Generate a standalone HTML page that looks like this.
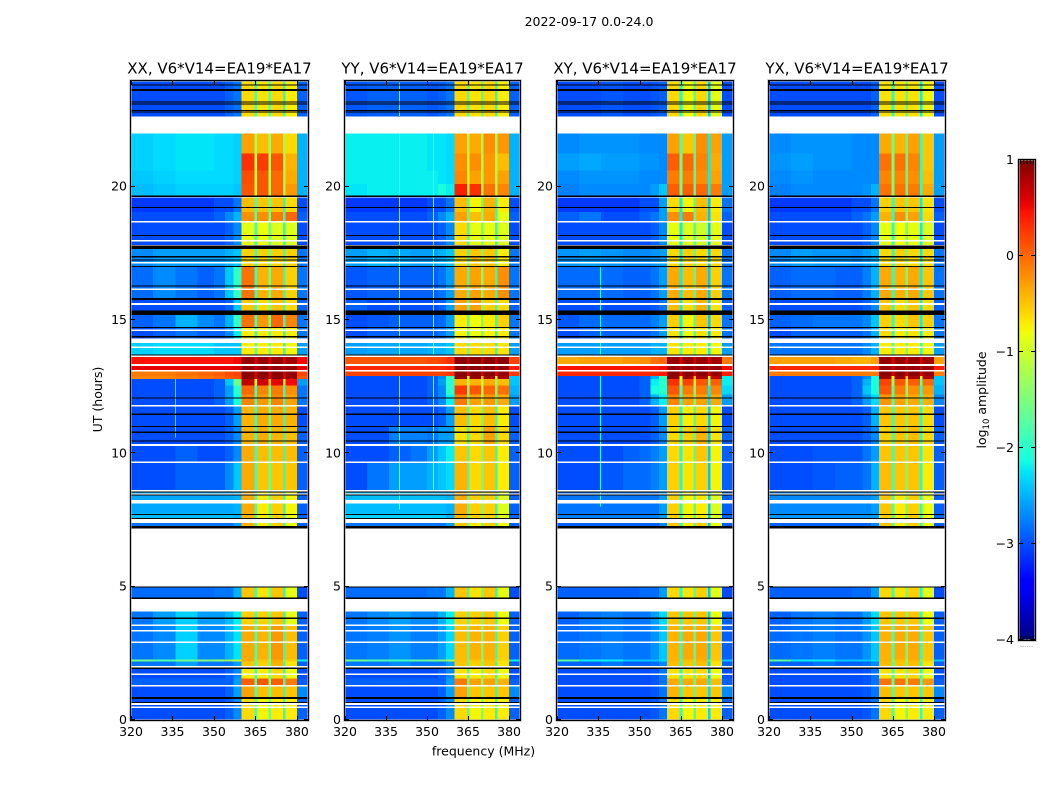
<!DOCTYPE html>
<html lang="en">
<head>
<meta charset="utf-8">
<title>2022-09-17 0.0-24.0</title>
<style>
html,body{margin:0;padding:0;background:#fff;width:1050px;height:800px;overflow:hidden}
svg{display:block}
text{font-family:"DejaVu Sans","Liberation Sans",sans-serif;fill:#000}
</style>
</head>
<body>
<svg id="fig" xmlns="http://www.w3.org/2000/svg" width="1050" height="800" viewBox="0 0 1050 800">
  <defs><linearGradient id="jetGrad" x1="0" y1="1" x2="0" y2="0"></linearGradient></defs>
  <rect x="0" y="0" width="1050" height="800" fill="#fff"/>
  <text x="589" y="26" font-size="12.5" text-anchor="middle">2022-09-17 0.0-24.0</text>
  <text x="483.500" y="755.500" font-size="12.5" text-anchor="middle">frequency (MHz)</text>
  <text x="0" y="0" font-size="12.5" text-anchor="middle" transform="translate(102,399.500) rotate(-90)">UT (hours)</text>
  <text x="0" y="0" font-size="12.5" text-anchor="middle" transform="translate(986,400) rotate(-90)">log<tspan font-size="8.500" dy="3">10</tspan><tspan dy="-3"> amplitude</tspan></text>
  <text x="1026.500" y="647" font-size="7" fill="#888" text-anchor="middle" style="fill:#888">......</text>
  <g id="panels"></g>
  <g id="cbar"></g>
</svg>
<script>
// ---------- chart data ----------
const panelProducts = ['XX', 'YY', 'XY', 'YX'];
const baselineLabel = ', V6*V14=EA19*EA17';
const freqTicks = [320, 335, 350, 365, 380];
const hourTicks = [0, 5, 10, 15, 20];
const colorbarTicks = [1, 0, -1, -2, -3, -4];
const colorbarMinor = [0, 1, 2, 3, 4];

// Frequency channel group edges (MHz)
const freqEdges = [320, 328, 336, 344, 350, 354, 357, 360, 364.6, 365.6, 369.7, 370.6, 374.9, 375.8, 380, 384];
// Time band edges (UT hours), top of plot downward
const hourEdges = [23.96, 22.65, 22, 21.25, 20.6, 20.1, 19.62, 19.05, 18.68, 17.75, 17, 15.75, 15.3, 14.7, 14.33, 14.13, 13.67, 13.3, 13.07, 12.9, 12.78, 12.55, 12.2, 11.78, 10.98, 10.3, 9.66, 8.6, 7.75, 7.55, 7.38, 7.2, 5, 4.55, 4.07, 3.56, 2.27, 2.2, 1.98, 1.55, 1.3, 0.85, 0];

// log10 amplitude per time band / channel group; null = no data (white)
const xxLevels = [
[-3,-3,-3,-3,-3,-2.9,-2.8,-.6,-1.8,-.65,-1.7,-.6,-2,-.7,-2.9],
null,
[-2.35,-2.3,-2.25,-2.25,-2.3,-2.3,-2.35,-.3,-1.2,-.45,-1.3,-.35,-1.3,-.6,-2.5],
[-2.35,-2.3,-2.25,-2.25,-2.3,-2.3,-2.35,.3,-1,.25,-1.2,.1,-1.2,-.4,-2.5],
[-2.4,-2.35,-2.3,-2.3,-2.3,-2.3,-2.35,.15,-1,.1,-1.2,0,-1.2,-.35,-2.5],
[-2.45,-2.4,-2.35,-2.35,-2.35,-2.35,-2.4,.1,-1,.1,-1.2,0,-1.2,-.25,-2.5],
[-3.1,-3.1,-3.1,-3.1,-3,-3,-2.8,-.45,-1.8,-.5,-1.6,-.5,-2.1,-.6,-3],
[-3,-3,-3,-3,-2.9,-2.7,-2.5,-.2,-1.7,-.2,-1.5,-.1,-2,0,-2.9],
[-3,-3,-3,-3,-3,-2.9,-2.7,-.85,-1.9,-.8,-1.6,-.9,-2,-.9,-3],
[-2.7,-2.6,-2.6,-2.6,-2.6,-2.5,-2.4,-.55,-1.9,-.55,-1.6,-.55,-2,-.55,-2.8],
[-2.85,-2.7,-2.8,-2.9,-2.8,-2.4,-1.95,-.05,-1.9,-.4,-1.5,-.35,-2,-.55,-2.8],
[-3,-3,-3,-3,-3,-2.9,-2.4,-.5,-1.9,-.6,-1.6,-.5,-2,-.6,-2.9],
[-2.9,-2.8,-2.5,-2.7,-2.8,-2.5,-1.95,-.05,-1.8,-.25,-1.5,0,-2,-.15,-2.8],
[-3,-2.9,-2.8,-2.9,-2.9,-2.7,-2.2,-.7,-1.9,-.7,-1.6,-.7,-2,-.7,-2.8],
null,
[-2.35,-2.3,-2.3,-2.3,-2.4,-2.4,-2.4,-.7,-1.7,-.7,-1.5,-.7,-2,-.75,-2.6],
[.45,.45,.45,.45,.45,.45,.5,.9,.6,.9,.6,.9,.6,.85,.5],
[.55,.55,.55,.55,.55,.55,.6,.9,.7,.9,.7,.9,.7,.9,.55],
[-.1,-.1,-.05,0,.05,.15,.2,.95,.6,.95,.6,.95,.6,.9,.2],
[-.15,-.15,-.1,-.05,0,.1,.15,.95,.6,.95,.6,.95,.6,.9,.1],
[-3,-3,-3,-3,-2.9,-2.4,-1.6,.7,-.8,.65,-.5,.55,-1,.5,-2.6],
[-3,-3,-3,-3,-2.9,-2.6,-2,0,-1.8,-.15,-1.5,-.1,-2,-.2,-2.8],
[-3,-3,-3,-3,-2.9,-2.6,-2.1,-.15,-1.8,-.25,-1.5,-.15,-2,-.3,-2.8],
[-3,-3,-3,-3,-3,-2.9,-2.6,-.4,-1.9,-.35,-1.6,-.35,-2,-.4,-3],
[-3,-3,-3,-3,-3,-2.9,-2.7,-.4,-1.9,-.35,-1.6,-.4,-2,-.45,-2.9],
[-3,-3,-2.9,-3,-3,-2.9,-2.7,-.35,-1.9,-.45,-1.6,-.45,-2,-.45,-2.9],
[-3,-3,-2.9,-2.9,-2.9,-2.7,-2.4,-.35,-1.9,-.5,-1.6,-.5,-2,-.5,-2.9],
[-2.55,-2.55,-2.55,-2.55,-2.55,-2.55,-2.5,-.35,-1.8,-.7,-1.6,-.55,-2,-.75,-2.9],
[-2.45,-2.45,-2.45,-2.45,-2.45,-2.45,-2.5,-.4,-1.8,-.7,-1.6,-.55,-2,-.8,-2.9],
null,
[-2.8,-2.8,-2.8,-2.8,-2.8,-2.8,-2.6,-.4,-1.8,-.7,-1.6,-.55,-2,-.8,-2.9],
null,
[-2.85,-2.85,-2.85,-2.85,-2.8,-2.8,-2.5,-.5,-1.9,-.65,-1.6,-.5,-2.1,-.85,-3],
null,
[-2.8,-2.6,-2.35,-2.6,-2.6,-2.45,-2.2,-.55,-1.8,-.55,-1.6,-.5,-2,-.85,-2.9],
[-2.8,-2.7,-2.35,-2.7,-2.7,-2.5,-2.25,-.35,-1.8,-.4,-1.6,-.25,-2,-.45,-2.9],
[-1.6,-1.8,-1.6,-1.5,-1.4,-1.3,-1.1,-.35,-1.6,-.5,-1.4,-.35,-1.6,-.55,-2.2],
[-2.8,-2.8,-2.6,-2.8,-2.8,-2.8,-2.6,-.5,-1.8,-.55,-1.6,-.4,-2,-.65,-2.9],
[-3,-3,-3,-3,-3,-2.9,-2.7,-.7,-1.9,-.7,-1.6,-.6,-2,-.8,-3],
[-2.9,-2.9,-2.9,-2.9,-2.9,-2.9,-2.6,.05,-1.7,.1,-1.5,.05,-1.9,-.1,-2.9],
[-3,-3,-3,-3,-3,-2.9,-2.6,-.3,-1.8,-.45,-1.6,-.45,-2,-.5,-2.7],
[-3,-3,-3,-3,-3,-2.9,-2.7,-.6,-1.8,-.75,-1.6,-.7,-2,-.7,-2.9]
];
const yyLevels = [
[-2.95,-2.9,-2.9,-2.9,-2.95,-2.9,-2.8,-.6,-1.8,-.65,-1.7,-.6,-2,-.7,-2.9],
null,
[-2.2,-2.2,-2.2,-2.2,-2.25,-2.25,-2.3,-.3,-1.2,-.35,-1.3,-.2,-1.3,-.25,-2.5],
[-2.2,-2.2,-2.2,-2.2,-2.25,-2.25,-2.3,-.2,-1,-.2,-1.2,-.25,-1.2,-.45,-2.5],
[-2.2,-2.2,-2.2,-2.2,-2.2,-2.25,-2.3,-.15,-1,-.3,-1.2,-.25,-1.2,-.3,-2.5],
[-2.25,-2.2,-2.2,-2.2,-2.2,-2.1,-2.2,.4,-1,.3,-1.2,-.05,-1.2,-.15,-2.5],
[-3.1,-3.1,-3.1,-3.1,-3,-3,-2.8,-.45,-1.8,-.75,-1.6,-.4,-2.1,-.7,-3],
[-3,-3,-3,-3,-2.9,-2.7,-2.5,-.3,-1.7,-.45,-1.5,-.35,-2,-.85,-2.9],
[-3,-3,-3,-3,-3,-2.9,-2.7,-.6,-1.9,-.85,-1.6,-.85,-2,-.9,-3],
[-2.6,-2.5,-2.55,-2.6,-2.6,-2.5,-2.4,-.55,-1.9,-.5,-1.6,-.5,-2,-.7,-2.8],
[-2.95,-2.9,-2.9,-2.9,-2.9,-2.8,-2.6,-.35,-1.9,-.3,-1.5,-.35,-2,-.2,-2.8],
[-2.9,-3,-3,-3,-3,-2.9,-2.6,-.3,-1.9,-.3,-1.6,-.55,-2,-.6,-2.9],
[-3,-2.95,-2.9,-2.9,-2.9,-2.85,-2.6,-.7,-1.8,-.8,-1.5,-.7,-2,-.55,-2.8],
[-3,-2.9,-2.9,-2.9,-2.9,-2.8,-2.6,-.75,-1.9,-.8,-1.6,-.75,-2,-.7,-2.8],
null,
[-2.6,-2.55,-2.55,-2.55,-2.5,-2.5,-2.4,-.6,-1.7,-.6,-1.5,-.6,-2,-.65,-2.6],
[.1,.1,.1,.1,.15,.2,.3,.95,.7,.95,.7,.95,.7,.95,.2],
[.35,.35,.35,.35,.35,.35,.4,.95,.7,.95,.7,.95,.7,.9,.4],
[.2,.2,.2,.2,.2,.2,.25,.95,.6,.95,.6,.95,.6,.9,.25],
[-3,-3,-3,-3,-2.9,-2.7,-1.9,.9,-.8,.9,-.5,.85,-1,.8,-2.4],
[-3,-3,-3,-3,-2.9,-2.6,-2,-.4,-1.2,-.4,-1.1,-.35,-1.4,-.45,-2.4],
[-3,-3,-3,-3,-2.9,-2.7,-2,.25,-1.4,.1,-1.2,0,-1.5,-.05,-2.5],
[-3,-3,-3,-3,-2.9,-2.7,-2.2,-.1,-1.6,-.3,-1.4,-.25,-1.8,-.35,-2.6],
[-3,-3,-3,-3,-3,-2.9,-2.6,-.45,-1.9,-.6,-1.6,-.45,-2,-.7,-3],
[-3,-3,-2.75,-2.75,-2.8,-2.6,-2.6,-.65,-1.9,-.6,-1.6,-.3,-2,-.6,-2.9],
[-3,-3,-2.9,-2.8,-2.6,-2.4,-2.2,-.5,-1.9,-.6,-1.6,-.5,-2,-.7,-2.9],
[-3,-2.8,-2.6,-2.6,-2.5,-2.4,-2.3,-.4,-1.9,-.6,-1.6,-.5,-2,-.7,-2.9],
[-2.45,-2.45,-2.45,-2.45,-2.45,-2.45,-2.5,-.35,-1.8,-.55,-1.6,-.55,-2,-.9,-2.9],
[-2.35,-2.35,-2.35,-2.35,-2.35,-2.35,-2.5,-.4,-1.8,-.55,-1.6,-.55,-2,-.9,-2.9],
null,
[-2.8,-2.8,-2.8,-2.8,-2.8,-2.8,-2.6,-.5,-1.8,-.7,-1.6,-.55,-2,-.8,-2.9],
null,
[-2.85,-2.85,-2.85,-2.85,-2.8,-2.8,-2.5,-.5,-1.9,-.65,-1.6,-.5,-2.1,-.85,-3],
null,
[-2.8,-2.7,-2.6,-2.7,-2.7,-2.5,-2.2,-.55,-1.8,-.55,-1.6,-.5,-2,-.8,-2.9],
[-2.8,-2.75,-2.65,-2.75,-2.75,-2.6,-2.3,-.45,-1.8,-.4,-1.6,-.4,-2,-.55,-2.9],
[-1.6,-1.8,-1.9,-1.7,-1.6,-1.5,-1.3,-.45,-1.6,-.5,-1.4,-.45,-1.6,-.6,-2.2],
[-2.8,-2.8,-2.7,-2.8,-2.8,-2.8,-2.6,-.5,-1.8,-.55,-1.6,-.5,-2,-.65,-2.9],
[-3,-3,-3,-3,-3,-2.9,-2.7,-.65,-1.9,-.7,-1.6,-.6,-2,-.8,-3],
[-2.9,-2.9,-2.9,-2.9,-2.9,-2.9,-2.6,-.1,-1.7,-.3,-1.5,-.3,-1.9,-.4,-2.9],
[-3,-3,-3,-3,-3,-2.9,-2.6,-.3,-1.8,-.5,-1.6,-.5,-2,-.5,-2.7],
[-3,-3,-3,-3,-3,-2.9,-2.7,-.6,-1.8,-.75,-1.6,-.7,-2,-.7,-2.9]
];
const xyLevels = [
[-3,-3,-2.95,-3,-3,-2.95,-2.9,-.6,-2.1,-.8,-1.8,-.6,-2.4,-.85,-3],
null,
[-2.7,-2.65,-2.65,-2.65,-2.7,-2.7,-2.7,-.3,-1.8,-.5,-1.8,-.2,-2.2,-.3,-2.6],
[-2.6,-2.55,-2.6,-2.6,-2.65,-2.65,-2.7,.05,-1.6,0,-1.8,-.15,-2.2,-.35,-2.6],
[-2.7,-2.65,-2.65,-2.65,-2.7,-2.7,-2.7,-.1,-1.6,-.1,-1.8,-.2,-2.2,-.3,-2.6],
[-2.75,-2.7,-2.7,-2.7,-2.7,-2.6,-2.4,.05,-1.6,.05,-1.8,0,-2.2,-.1,-2.6],
[-3.1,-3.1,-3.1,-3.1,-3,-3,-2.6,-.6,-2.2,-.75,-1.8,-.45,-2.4,-.7,-2.8],
[-2.9,-2.8,-3,-3,-2.9,-2.8,-2.6,-.2,-2.2,-.1,-1.8,-.4,-2.4,-.65,-2.9],
[-3,-3,-3,-3,-3,-2.9,-2.7,-.85,-2.2,-.9,-1.8,-1,-2.4,-.85,-3],
[-2.65,-2.6,-2.65,-2.7,-2.7,-2.65,-2.6,-.6,-2.2,-.55,-1.8,-.6,-2.4,-.6,-2.8],
[-2.85,-2.85,-2.85,-2.9,-2.9,-2.8,-2.6,-.35,-2.2,-.45,-1.8,-.35,-2.4,-.55,-2.8],
[-3,-3,-3,-3,-3,-2.95,-2.8,-.45,-2.2,-.6,-1.8,-.4,-2.4,-.65,-2.9],
[-2.95,-2.85,-2.85,-2.85,-2.85,-2.75,-2.6,-.55,-2.2,-.75,-1.8,-.5,-2.4,-.6,-2.8],
[-3,-2.9,-2.9,-2.9,-2.9,-2.8,-2.6,-.65,-2.2,-.8,-1.8,-.65,-2.4,-.7,-2.8],
null,
[-2.6,-2.6,-2.6,-2.6,-2.6,-2.5,-2.5,-.65,-1.8,-.7,-1.6,-.7,-2.2,-.75,-2.6],
[-.35,-.3,-.3,-.25,-.2,-.05,0,.9,.6,.9,.6,.9,.6,.85,-.1],
[.45,.45,.45,.45,.45,.45,.5,.9,.7,.9,.7,.9,.7,.9,.5],
[.35,.35,.35,.35,.35,.35,.4,.95,.6,.95,.6,.95,.6,.9,.4],
[-3,-3,-3,-3,-2.9,-2.5,-1.9,.9,-.8,.85,-.5,.8,-1,.7,-2.2],
[-3,-3,-3,-3,-2.9,-2.2,-2,.3,-1.2,.2,-1,.1,-1.5,.05,-2.2],
[-3,-3,-3,-3,-2.9,-2.1,-2,.1,-1.8,-.1,-1.5,-.1,-2.2,-.15,-2.3],
[-3,-3,-3,-3,-2.9,-2.5,-2.2,-.15,-2,-.3,-1.6,-.3,-2.3,-.35,-2.6],
[-3,-3,-3,-3,-3,-2.9,-2.6,-.55,-2.1,-.7,-1.8,-.6,-2.4,-.75,-3],
[-3,-3,-3,-3,-3,-2.9,-2.7,-.6,-2.1,-.55,-1.8,-.4,-2.4,-.65,-2.9],
[-3,-3,-3,-2.9,-2.85,-2.75,-2.6,-.6,-2.1,-.65,-1.8,-.5,-2.4,-.75,-2.9],
[-3,-3,-2.95,-2.85,-2.85,-2.75,-2.6,-.55,-2.1,-.65,-1.8,-.55,-2.4,-.75,-2.9],
[-2.8,-2.8,-2.8,-2.8,-2.8,-2.8,-2.6,-.55,-2.1,-.75,-1.8,-.7,-2.4,-.9,-2.9],
[-2.75,-2.75,-2.75,-2.75,-2.75,-2.75,-2.6,-.55,-2.1,-.75,-1.8,-.7,-2.4,-.9,-2.9],
null,
[-2.9,-2.9,-2.9,-2.9,-2.9,-2.9,-2.7,-.5,-2.1,-.7,-1.8,-.55,-2.4,-.8,-2.9],
null,
[-2.9,-2.9,-2.9,-2.9,-2.85,-2.85,-2.6,-.6,-2.1,-.65,-1.8,-.55,-2.4,-.85,-3],
null,
[-2.9,-2.8,-2.75,-2.8,-2.8,-2.6,-2.3,-.5,-2,-.5,-1.8,-.5,-2.3,-.8,-2.9],
[-2.85,-2.8,-2.75,-2.8,-2.8,-2.65,-2.4,-.4,-2,-.35,-1.8,-.35,-2.3,-.5,-2.9],
[-1.7,-2.2,-2.2,-2.4,-2.4,-2.4,-2.3,-.4,-1.8,-.45,-1.6,-.4,-2,-.55,-2.4],
[-2.9,-2.9,-2.8,-2.9,-2.9,-2.85,-2.7,-.45,-2,-.5,-1.8,-.45,-2.3,-.65,-2.9],
[-3,-3,-3,-3,-3,-2.95,-2.8,-.65,-2.1,-.65,-1.8,-.6,-2.4,-.8,-3],
[-3,-3,-3,-3,-3,-2.95,-2.8,-.35,-2,-.35,-1.7,-.35,-2.2,-.45,-2.9],
[-3,-3,-3,-3,-3,-2.95,-2.8,-.4,-2,-.5,-1.8,-.5,-2.3,-.5,-2.7],
[-3,-3,-3,-3,-3,-2.95,-2.8,-.6,-2,-.75,-1.8,-.7,-2.3,-.7,-2.9]
];
const yxLevels = [
[-3,-3,-3,-3,-3,-3,-2.9,-.65,-2,-.65,-1.7,-.65,-2.2,-.75,-3],
null,
[-2.7,-2.65,-2.65,-2.65,-2.7,-2.7,-2.7,-.35,-1.6,-.4,-1.7,-.3,-2,-.5,-2.6],
[-2.65,-2.6,-2.65,-2.65,-2.7,-2.7,-2.7,-.05,-1.5,-.05,-1.7,-.15,-2,-.5,-2.6],
[-2.7,-2.65,-2.7,-2.7,-2.7,-2.7,-2.7,-.15,-1.5,-.15,-1.7,-.2,-2,-.45,-2.6],
[-2.75,-2.7,-2.7,-2.7,-2.7,-2.65,-2.5,-.05,-1.5,-.05,-1.7,-.1,-2,-.35,-2.6],
[-3.1,-3.1,-3.1,-3.1,-3,-3,-2.8,-.55,-2,-.5,-1.6,-.5,-2.2,-.65,-3],
[-3,-3,-3,-3,-2.9,-2.8,-2.6,-.4,-2,-.2,-1.5,-.3,-2.2,-.6,-2.9],
[-3,-3,-3,-3,-3,-2.9,-2.7,-.85,-2,-.8,-1.6,-.85,-2.2,-.9,-3],
[-2.7,-2.6,-2.65,-2.65,-2.7,-2.6,-2.5,-.6,-2,-.55,-1.6,-.6,-2.2,-.6,-2.8],
[-2.9,-2.85,-2.85,-2.9,-2.9,-2.75,-2.5,-.35,-2,-.4,-1.6,-.35,-2.2,-.5,-2.8],
[-3,-3,-3,-3,-3,-2.9,-2.7,-.5,-2,-.6,-1.6,-.5,-2.2,-.6,-2.9],
[-2.9,-2.85,-2.8,-2.8,-2.8,-2.7,-2.4,-.55,-2,-.6,-1.5,-.5,-2.2,-.55,-2.8],
[-3,-2.9,-2.9,-2.9,-2.9,-2.8,-2.5,-.6,-2,-.7,-1.6,-.65,-2.2,-.7,-2.8],
null,
[-2.8,-2.8,-2.8,-2.8,-2.8,-2.7,-2.5,-.7,-1.7,-.7,-1.5,-.7,-2,-.75,-2.6],
[-.3,-.3,-.3,-.35,-.4,-.4,-.3,.9,.6,.9,.6,.9,.6,.85,-.3],
[.35,.35,.35,.35,.35,.35,.35,.9,.7,.9,.7,.9,.7,.9,.4],
[-.1,-.1,-.1,-.1,-.1,-.1,-.1,.95,.6,.95,.6,.95,.6,.9,-.1],
[-3,-3,-3,-3,-2.9,-2.7,-2.1,.85,-.8,.85,-.5,.8,-1,.75,-2.4],
[-3,-3,-3,-3,-2.9,-2.5,-2.1,.2,-1.4,.1,-1.2,.05,-1.6,0,-2.4],
[-3,-3,-3,-3,-2.9,-2.4,-2.1,.1,-1.7,-.1,-1.5,-.2,-2,-.25,-2.5],
[-3,-3,-3,-3,-2.9,-2.6,-2.3,-.25,-1.8,-.3,-1.5,-.35,-2,-.4,-2.7],
[-3,-3,-3,-3,-3,-2.9,-2.5,-.5,-1.9,-.5,-1.6,-.5,-2,-.6,-3],
[-3,-3,-3,-3,-3,-2.9,-2.7,-.55,-1.9,-.5,-1.6,-.45,-2,-.6,-2.9],
[-3,-3,-2.95,-2.95,-2.95,-2.8,-2.6,-.5,-1.9,-.5,-1.6,-.5,-2,-.65,-2.9],
[-3,-3,-2.95,-2.9,-2.9,-2.8,-2.5,-.45,-1.9,-.5,-1.6,-.5,-2,-.7,-2.9],
[-2.7,-2.7,-2.7,-2.7,-2.7,-2.7,-2.6,-.5,-1.8,-.7,-1.6,-.55,-2,-.8,-2.9],
[-2.65,-2.65,-2.65,-2.65,-2.65,-2.65,-2.6,-.55,-1.8,-.7,-1.6,-.55,-2,-.8,-2.9],
null,
[-2.9,-2.9,-2.9,-2.9,-2.9,-2.9,-2.7,-.5,-1.8,-.7,-1.6,-.55,-2,-.8,-2.9],
null,
[-2.9,-2.9,-2.9,-2.9,-2.85,-2.85,-2.6,-.6,-1.9,-.65,-1.6,-.55,-2.1,-.85,-3],
null,
[-2.9,-2.8,-2.75,-2.8,-2.8,-2.6,-2.3,-.5,-1.8,-.5,-1.6,-.5,-2,-.8,-2.9],
[-2.85,-2.8,-2.75,-2.8,-2.8,-2.65,-2.4,-.4,-1.8,-.35,-1.6,-.35,-2,-.5,-2.9],
[-1.7,-2.2,-2.2,-2.4,-2.4,-2.4,-2.3,-.4,-1.6,-.45,-1.4,-.4,-1.6,-.55,-2.4],
[-2.9,-2.9,-2.8,-2.9,-2.9,-2.85,-2.7,-.45,-1.8,-.5,-1.6,-.45,-2,-.65,-2.9],
[-3,-3,-3,-3,-3,-2.95,-2.8,-.65,-1.9,-.65,-1.6,-.6,-2,-.8,-3],
[-3,-3,-3,-3,-3,-2.95,-2.8,-.05,-1.7,-.05,-1.5,-.1,-1.9,-.25,-2.9],
[-3,-3,-3,-3,-3,-2.95,-2.8,-.45,-1.8,-.5,-1.6,-.5,-2,-.5,-2.7],
[-3,-3,-3,-3,-3,-2.95,-2.8,-.6,-1.8,-.75,-1.6,-.7,-2,-.7,-2.9]
];
const panelLevels = [xxLevels, yyLevels, xyLevels, yxLevels];

// Single bright channels: [MHz, from UT hour, to UT hour, log10 amplitude]
const xxChannelLines = [[335.9, 10.6, 13, -2.1]];
const yyChannelLines = [[339.8, 7.9, 23.9, -1.2], [352.1, 8.6, 22, -1.3]];
const xyChannelLines = [[335.7, 8, 17, -2.1]];
const yxChannelLines = [];
const panelChannelLines = [xxChannelLines, yyChannelLines, xyChannelLines, yxChannelLines];

// Narrow flagged integrations: white = no data, black = flagged dark lines [UT hour, duration]
const whiteFlagHours = [19.62, 18.68, 17.97, 17.78, 17.14, 16.15, 15.6, 14.61, 13.97, 13.65, 13.31, 13.09, 11.78, 10.31, 9.66, 8.6, 8.47, 8.21, 8.15, 3.56, 3.34, 2.91, 2, 1.72, 1.29, 0.6, 0.48];
const blackFlags = [[23.81,.04],[23.62,.07],[23.18,.04],[23.1,.04],[22.85,.04],[22.79,.04],[19.64,.05],[19.21,.04],[18.16,.04],[17.72,.13],[17.37,.04],[17.25,.04],[17,.04],[16.28,.04],[15.79,.08],[15.27,.16],[14.71,.04],[14.37,.04],[13.69,.04],[12.08,.04],[11.46,.05],[11,.04],[10.79,.04],[10.46,.05],[8.55,.04],[8.44,.04],[7.71,.04],[7.56,.04],[7.22,.09],[4.98,.04],[4.56,.06],[3.81,.05],[1.94,.05],[0.82,.08],[0.65,.04]];

// Colormap control points (fraction -> channel)
const jetRedAt = [[0,0],[.35,0],[.66,1],[.89,1],[1,.5]];
const jetGreenAt = [[0,0],[.125,0],[.375,1],[.64,1],[.91,0],[1,0]];
const jetBlueAt = [[0,.5],[.11,1],[.34,1],[.65,0],[1,0]];

// ---------- layout & scales ----------
const SVGNS = 'http://www.w3.org/2000/svg';
const panelLeft = [131, 345, 557, 769];
const panelRight = [308, 520, 733, 945];
const plotTop = 81, plotBottom = 720;
const FREQ_MIN = 320, FREQ_MAX = 384, HOUR_MIN = 0, HOUR_MAX = 23.96;
const V_MIN = -4, V_MAX = 1;

function xScale(p, f) { return panelLeft[p] + (f - FREQ_MIN) / (FREQ_MAX - FREQ_MIN) * (panelRight[p] - panelLeft[p]); }
function yScale(h) { return plotBottom - (h - HOUR_MIN) / (HOUR_MAX - HOUR_MIN) * (plotBottom - plotTop); }
function cbarY(v) { return 640 - (v - V_MIN) / (V_MAX - V_MIN) * 480; }
function channel(table, t) {
  for (let i = 1; i < table.length; i++) {
    if (t <= table[i][0]) {
      const a = table[i - 1], b = table[i];
      return a[1] + (t - a[0]) / (b[0] - a[0]) * (b[1] - a[1]);
    }
  }
  return table[table.length - 1][1];
}
function jet(v) {
  const t = Math.max(0, Math.min(1, (v - V_MIN) / (V_MAX - V_MIN)));
  const c = [jetRedAt, jetGreenAt, jetBlueAt].map(tb => Math.round(channel(tb, t) * 255));
  return 'rgb(' + c.join(',') + ')';
}
function make(tag, attrs, parent, txt) {
  const el = document.createElementNS(SVGNS, tag);
  for (const k in attrs) el.setAttribute(k, attrs[k]);
  if (txt !== undefined) el.textContent = txt;
  parent.appendChild(el);
  return el;
}

// ---------- panels ----------
const panelsRoot = document.getElementById('panels');
panelProducts.forEach(function (prod, p) {
  const key = prod.toLowerCase();
  const g = make('g', {}, panelsRoot);
  
  

  const L = panelLeft[p], R = panelRight[p];
  const title = make('text', { x: (L + R) / 2, y: 73.5, 'font-size': 15, 'text-anchor': 'middle' }, g, prod + baselineLabel);
  
  

  const heat = make('g', { 'shape-rendering': 'crispEdges' }, g);
  
  

  panelLevels[p].forEach(function (row, r) {
    if (!row) return;
    row.forEach(function (v, c) {
      const x0 = xScale(p, freqEdges[c]), x1 = xScale(p, freqEdges[c + 1]);
      const y0 = yScale(hourEdges[r]), y1 = yScale(hourEdges[r + 1]);
      const cell = make('rect', { x: x0, y: y0, width: x1 - x0 + .5, height: y1 - y0 + .5, fill: jet(v) }, heat);
      
      
    });
  });

  panelChannelLines[p].forEach(function (ln) {
    panelLevels[p].forEach(function (row, r) {
      if (!row) return;
      const hi = Math.min(ln[2], hourEdges[r]), lo = Math.max(ln[1], hourEdges[r + 1]);
      if (hi <= lo) return;
      const col = freqEdges.findIndex(function (e, i) { return ln[0] >= e && ln[0] < freqEdges[i + 1]; });
      if (row[col] >= ln[3]) return;
      const seg = make('rect', { x: xScale(p, ln[0]), y: yScale(hi), width: 1, height: yScale(lo) - yScale(hi), fill: jet(ln[3]) }, heat);
      
      
    });
  });

  whiteFlagHours.forEach(function (h) {
    const line = make('rect', { x: L, y: yScale(h) - .8, width: R - L, height: 1.6, fill: '#fff' }, heat);
    
    
  });
  blackFlags.forEach(function (f) {
    const ht = Math.abs(yScale(f[0] + f[1]) - yScale(f[0]));
    const line = make('rect', { x: L, y: yScale(f[0]) - ht / 2, width: R - L, height: ht, fill: '#000' }, heat);
    
    
  });

  const halo = make('rect', { x: L - .5, y: plotTop - .5, width: R - L + 1, height: plotBottom - plotTop + 1, fill: 'none', stroke: '#aaa', 'stroke-width': 2.2 }, g);
  
  
  const frame = make('rect', { x: L - .5, y: plotTop - .5, width: R - L + 1, height: plotBottom - plotTop + 1, fill: 'none', stroke: '#000', 'stroke-width': 1, 'shape-rendering': 'crispEdges' }, g);
  
  

  freqTicks.forEach(function (f) {
    const x = Math.round(xScale(p, f)) + .5;
    const t1 = make('line', { x1: x, x2: x, y1: plotBottom, y2: plotBottom - 4, stroke: '#000', 'stroke-width': 1 }, g);
    
    
    const t2 = make('line', { x1: x, x2: x, y1: plotTop, y2: plotTop + 4, stroke: '#000', 'stroke-width': 1 }, g);
    
    
    const lab = make('text', { x: xScale(p, f), y: 736, 'font-size': 12.5, 'text-anchor': 'middle' }, g, String(f));
    
    
  });
  hourTicks.forEach(function (h) {
    const y = Math.round(yScale(h)) - .5;
    const t1 = make('line', { x1: L, x2: L + 4, y1: y, y2: y, stroke: '#000', 'stroke-width': 1 }, g);
    
    
    const t2 = make('line', { x1: R, x2: R - 4, y1: y, y2: y, stroke: '#000', 'stroke-width': 1 }, g);
    
    
    const lab = make('text', { x: L - 4, y: yScale(h) + 4, 'font-size': 12.5, 'text-anchor': 'end' }, g, String(h));
    
    
  });
});

// ---------- colorbar ----------
const grad = document.getElementById('jetGrad');
for (let i = 0; i <= 64; i++) {
  make('stop', { offset: (i / 64), 'stop-color': jet(V_MIN + i / 64 * (V_MAX - V_MIN)) }, grad);
}
const cbarRoot = document.getElementById('cbar');
const cbL = 1019, cbR = 1035;
const cbRect = make('rect', { x: cbL, y: cbarY(V_MAX), width: cbR - cbL, height: cbarY(V_MIN) - cbarY(V_MAX), fill: 'url(#jetGrad)' }, cbarRoot);


const cbHalo = make('rect', { x: cbL - .5, y: cbarY(V_MAX) - .5, width: cbR - cbL + 1, height: cbarY(V_MIN) - cbarY(V_MAX) + 1, fill: 'none', stroke: '#aaa', 'stroke-width': 2.2 }, cbarRoot);


const cbFrame = make('rect', { x: cbL - .5, y: cbarY(V_MAX) - .5, width: cbR - cbL + 1, height: cbarY(V_MIN) - cbarY(V_MAX) + 1, fill: 'none', stroke: '#000', 'stroke-width': 1, 'shape-rendering': 'crispEdges' }, cbarRoot);


colorbarTicks.forEach(function (v) {
  const y = Math.round(cbarY(v)) - .5;
  const a = make('line', { x1: cbL, x2: cbL + 4, y1: y, y2: y, stroke: '#000' }, cbarRoot);
  
  
  const b = make('line', { x1: cbR, x2: cbR - 4, y1: y, y2: y, stroke: '#000' }, cbarRoot);
  
  
  const lab = make('text', { x: 1014, y: cbarY(v) + 4, 'font-size': 12.5, 'text-anchor': 'end' }, cbarRoot, String(v).replace('-', '\u2212'));
  
  
});
colorbarMinor.forEach(function (i) {
  const x = cbL + (i + .5) * (cbR - cbL) / colorbarMinor.length;
  const a = make('line', { x1: x, x2: x, y1: cbarY(V_MAX), y2: cbarY(V_MAX) + 4, stroke: '#000' }, cbarRoot);
  
  
  const b = make('line', { x1: x, x2: x, y1: cbarY(V_MIN), y2: cbarY(V_MIN) - 4, stroke: '#000' }, cbarRoot);
  
  
});
</script>
</body>
</html>
